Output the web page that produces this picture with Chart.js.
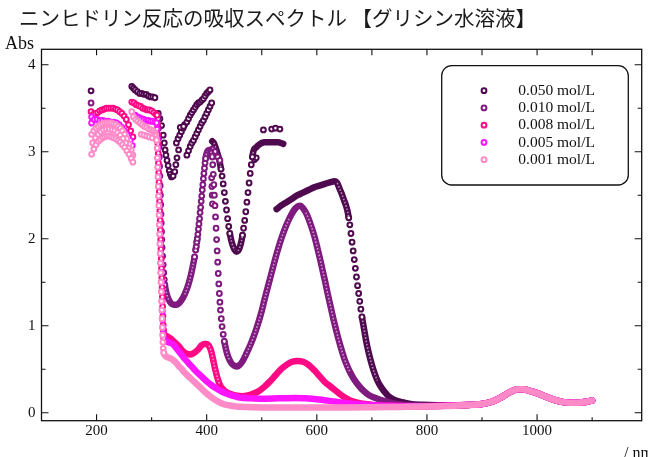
<!DOCTYPE html>
<html>
<head>
<meta charset="utf-8">
<script src="https://cdn.jsdelivr.net/npm/chart.js@4/dist/chart.umd.min.js"></script>
<style>
  html, body { margin: 0; padding: 0; background: #fff; }
  canvas { display: block; }
</style>
</head>
<body>
<canvas id="spectrum" width="648" height="457"></canvas>
<script>
// ---- axis ticks ----
const xTicks = [200, 400, 600, 800, 1000];
const xMinorTicks = [300, 500, 700, 900, 1100];
const yTicks = [0, 1, 2, 3, 4];
const yMinorTicks = [0.5, 1.5, 2.5, 3.5];

// ---- series ----
const concentrations = ['0.050 mol/L', '0.010 mol/L', '0.008 mol/L', '0.005 mol/L', '0.001 mol/L'];
const seriesColors = ['#4f0a4f', '#7f1a7f', '#ff0a84', '#ff14ff', '#ff8ac8'];

// [wavelength nm, Abs] — scattered readings in the saturated UV region
const sat050 = [[190,3.70],[264,3.75],[267,3.73],[270,3.71],[274,3.69],[278,3.67],[282,3.67],[286,3.66],[290,3.66],[294,3.64],[298,3.63],[302,3.63],[306,3.62],
  [312,3.44],[315,3.38],[318,3.30],[321,3.19],[323,3.10],[324.5,3.02],[326,2.96],[328,2.90],[330,2.84],[332,2.78],[334,2.74],[336,2.71],[339,2.72],[342,2.77],[344,2.85],[346,2.93],[349,3.02],
  [345,3.10],[348,3.15],[351,3.19],[354,3.23],[357,3.27],[360,3.31],[364,3.34],[367,3.38],[370,3.42],[373,3.45],[376,3.48],[379,3.51],[382,3.54],[385,3.56],[388,3.57],[391,3.59],[394,3.61],[397,3.64],[400,3.67],[403,3.69],[406,3.71],
  [364,2.96],[367,3.01],[370,3.06],[373,3.10],[376,3.13],[379,3.17],[382,3.21],[385,3.25],[388,3.29],[391,3.33],[394,3.36],[397,3.40],[400,3.44],[403,3.48],[406,3.52],[409,3.56],
  [352,3.28],[358,3.29],[487,2.91],[490,2.93],[503,3.25],[518,3.26],[525,3.27],[533,3.26]];
const sat010 = [[190,3.56],[405,2.97],[410,3.03],[415,3.00],[420,2.94],[424,2.90],[409,2.70],[409.5,2.60],[410,2.50],[410.5,2.40]];
const sat008 = [[190,3.46],[194,3.43],[198,3.44],[202,3.45],[206,3.47],[210,3.48],[214,3.49],[218,3.50],[222,3.50],[226,3.50],[230,3.50],[234,3.49],[238,3.48],[242,3.46],[246,3.44],[250,3.41],[254,3.37],[258,3.31],[262,3.24],[266,3.17],
  [264,3.57],[268,3.56],[272,3.54],[276,3.53],[280,3.52],[284,3.50],[288,3.49],[292,3.48],[296,3.48],[300,3.47],[304,3.45],[308,3.43]];
const sat005 = [[191,3.40],[191,3.33],[196,3.37],[201,3.37],[206,3.36],[211,3.36],[216,3.35],[221,3.35],[226,3.34],[231,3.34],[236,3.33],[241,3.31],[246,3.28],[251,3.24],[256,3.19],[261,3.13],[265,3.07],
  [270,3.42],[274,3.40],[278,3.39],[282,3.38],[286,3.37],[290,3.36],[294,3.36],[298,3.35],[302,3.35],[306,3.34]];
const sat001 = [[191,3.20],[195,3.24],[199,3.27],[203,3.29],[207,3.31],[211,3.32],[215,3.33],[219,3.33],[223,3.33],[227,3.33],[231,3.32],[235,3.31],[239,3.29],[243,3.27],[247,3.24],[251,3.20],[255,3.15],[259,3.09],[263,3.02],[266,2.96],
  [193,3.10],[198,3.16],[203,3.20],[208,3.23],[213,3.25],[218,3.26],[223,3.26],[228,3.25],[233,3.24],[238,3.22],[243,3.19],[248,3.15],[253,3.10],[258,3.04],[263,2.97],
  [191,2.97],[195,3.03],[199,3.08],[203,3.12],[207,3.14],[211,3.16],[215,3.17],[219,3.18],[223,3.18],[227,3.17],[231,3.16],[235,3.15],[239,3.13],[243,3.11],[247,3.08],[251,3.05],[255,3.01],[259,2.97],[263,2.92],[266,2.88],
  [264,3.46],[267,3.40],[271,3.37],[275,3.35],[279,3.33],[283,3.31],[287,3.29],[291,3.28],[295,3.26],[299,3.25],[303,3.24],[306,3.22],[281,3.20],[286,3.19],[291,3.18],[296,3.17],[301,3.16]];

// [wavelength nm, Abs] — continuous traces
const trace050a = [[410,3.12],[413,3.10],[416,3.05],[419,2.99],[422,2.93],[424,2.87],[426,2.80],[428,2.72],[430,2.63],[432,2.53],[434,2.43],[436,2.33],[438,2.23],[440,2.14],[442,2.06],[445,1.97],[448,1.91],[451,1.87],[454,1.85],[457,1.86],[460,1.90],[463,1.97],[465,2.04],[467,2.12],[469,2.21],[471,2.31],[473,2.42],[475,2.53],[477,2.64],[479,2.75],[481,2.85],[483,2.94],[485,3.01],[490,3.05],[495,3.08],[500,3.10],[505,3.11],[510,3.11],[515,3.11],[520,3.11],[525,3.11],[530,3.11],[535,3.10],[539,3.09]];
const trace050b = [[527,2.34],[535,2.38],[545,2.42],[555,2.46],[565,2.50],[575,2.53],[585,2.56],[595,2.59],[605,2.61],[615,2.63],[625,2.65],[632,2.66],[637,2.64],[641,2.58],[645,2.52],[649,2.45],[653,2.38],[656,2.31],[658,2.24],[660,2.16],[662,2.06],[664,1.96],[666,1.86],[668,1.76],[670,1.66],[672,1.56],[674,1.46],[676,1.37],[678,1.28],[680,1.19],[682,1.10],[685,0.99],[688,0.88],[691,0.78],[695,0.67],[700,0.55],[705,0.45],[710,0.37],[716,0.30],[723,0.24],[730,0.19],[740,0.15],[755,0.12],[770,0.10],[790,0.09],[820,0.085],[860,0.085],[880,0.09],[900,0.10],[915,0.12],[930,0.16],[945,0.215],[955,0.25],[965,0.27],[975,0.27],[985,0.255],[1000,0.225],[1015,0.185],[1030,0.15],[1045,0.125],[1060,0.115],[1075,0.115],[1090,0.125],[1100,0.14]];
const trace010 = [[310,3.42],[312,3.38],[312.5,3.27],[313,3.16],[313.5,3.05],[314,2.94],[314.5,2.83],[315,2.72],[315.5,2.61],[316,2.50],[316.5,2.39],[317,2.28],[317.5,2.18],[318,2.08],[318.5,1.99],[319,1.90],[320,1.80],[321,1.70],[322,1.61],[323,1.53],[324,1.47],[326,1.40],[328,1.35],[331,1.30],[335,1.26],[340,1.24],[345,1.24],[350,1.26],[355,1.30],[360,1.36],[365,1.44],[368,1.50],[372,1.60],[375,1.69],[378,1.79],[380,1.87],[381,1.91],[382,1.96],[383,2.00],[384,2.05],[385,2.11],[386,2.17],[387,2.23],[388,2.30],[389,2.36],[390,2.43],[391,2.49],[392,2.56],[393,2.62],[394,2.69],[395,2.75],[396,2.81],[397,2.87],[398,2.92],[399,2.96],[401,3.00],[404,3.02],[407,3.00],[410,2.94],[411,2.85],[412,2.74],[413,2.62],[414,2.50],[415,2.38],[416,2.25],[417,2.12],[418,1.99],[419,1.86],[420,1.73],[421,1.60],[422,1.48],[423,1.37],[424,1.27],[425,1.18],[426.5,1.08],[428,0.99],[430,0.90],[432,0.82],[435,0.73],[438,0.66],[442,0.60],[446,0.56],[450,0.54],[455,0.53],[460,0.55],[465,0.59],[470,0.65],[475,0.72],[480,0.79],[485,0.87],[490,0.96],[495,1.06],[500,1.17],[505,1.30],[510,1.42],[515,1.54],[520,1.66],[525,1.78],[530,1.89],[535,1.99],[540,2.08],[545,2.16],[550,2.23],[555,2.29],[560,2.34],[565,2.37],[570,2.38],[575,2.35],[580,2.30],[585,2.23],[590,2.14],[595,2.04],[600,1.92],[605,1.79],[610,1.65],[615,1.51],[620,1.36],[625,1.22],[630,1.08],[635,0.95],[640,0.83],[645,0.72],[650,0.62],[655,0.54],[660,0.47],[667,0.39],[675,0.32],[685,0.25],[695,0.20],[710,0.16],[725,0.13],[745,0.10],[770,0.085],[800,0.08],[850,0.085],[880,0.09],[900,0.10],[915,0.12],[930,0.16],[945,0.215],[955,0.25],[965,0.27],[975,0.27],[985,0.255],[1000,0.225],[1015,0.185],[1030,0.15],[1045,0.125],[1060,0.115],[1075,0.115],[1090,0.125],[1100,0.14]];
const trace008 = [[310,3.42],[310.5,3.31],[311,3.20],[311.5,3.09],[312,2.98],[312.5,2.87],[313,2.76],[313.5,2.65],[314,2.54],[314.5,2.43],[315,2.32],[315.5,2.21],[316,2.10],[316.5,1.99],[317,1.88],[317.5,1.77],[318,1.66],[318.5,1.55],[319,1.44],[319.5,1.33],[320,1.22],[320.5,1.11],[321,1.01],[321.5,0.95],[322,0.91],[325,0.89],[330,0.87],[335,0.85],[340,0.82],[345,0.79],[350,0.76],[355,0.72],[360,0.69],[365,0.675],[370,0.67],[375,0.68],[380,0.70],[385,0.73],[390,0.77],[395,0.79],[400,0.79],[404,0.77],[408,0.71],[411,0.63],[414,0.54],[417,0.46],[420,0.39],[424,0.32],[428,0.28],[435,0.24],[445,0.21],[455,0.195],[465,0.19],[475,0.20],[485,0.22],[495,0.25],[505,0.30],[515,0.36],[525,0.43],[535,0.50],[545,0.55],[555,0.585],[565,0.595],[575,0.585],[585,0.55],[595,0.49],[605,0.42],[615,0.35],[625,0.30],[635,0.25],[645,0.20],[655,0.16],[665,0.13],[680,0.105],[700,0.09],[730,0.08],[770,0.075],[800,0.075],[850,0.082],[880,0.09],[900,0.10],[915,0.12],[930,0.16],[945,0.215],[955,0.25],[965,0.27],[975,0.27],[985,0.255],[1000,0.225],[1015,0.185],[1030,0.15],[1045,0.125],[1060,0.115],[1075,0.115],[1090,0.125],[1100,0.14]];
const trace005 = [[309,3.33],[310,3.26],[310.5,3.15],[311,3.04],[311.5,2.93],[312,2.82],[312.5,2.71],[313,2.60],[313.5,2.49],[314,2.38],[314.5,2.27],[315,2.16],[315.5,2.05],[316,1.94],[316.5,1.83],[317,1.72],[317.5,1.61],[318,1.50],[318.5,1.39],[319,1.28],[319.5,1.17],[320,1.07],[320.5,0.98],[321,0.91],[322,0.86],[325,0.83],[330,0.81],[335,0.80],[340,0.78],[345,0.74],[350,0.70],[355,0.66],[360,0.62],[370,0.55],[380,0.48],[390,0.42],[400,0.36],[410,0.31],[420,0.27],[430,0.235],[440,0.21],[450,0.19],[460,0.175],[480,0.165],[500,0.16],[530,0.165],[560,0.17],[580,0.165],[600,0.155],[630,0.13],[660,0.105],[690,0.09],[720,0.08],[760,0.075],[800,0.075],[850,0.082],[880,0.09],[900,0.10],[915,0.12],[930,0.16],[945,0.215],[955,0.25],[965,0.27],[975,0.27],[985,0.255],[1000,0.225],[1015,0.185],[1030,0.15],[1045,0.125],[1060,0.115],[1075,0.115],[1090,0.125],[1100,0.14]];
const trace001 = [[307,3.20],[309,3.13],[310,3.04],[310.5,2.93],[311,2.82],[311.5,2.71],[312,2.60],[312.5,2.49],[313,2.38],[313.5,2.27],[314,2.16],[314.5,2.05],[315,1.94],[315.5,1.83],[316,1.72],[316.5,1.61],[317,1.50],[317.5,1.39],[318,1.28],[318.5,1.18],[319,1.08],[319.5,0.98],[320,0.89],[320.5,0.81],[321,0.74],[322,0.69],[324,0.66],[328,0.64],[332,0.63],[336,0.62],[340,0.60],[345,0.57],[350,0.53],[355,0.50],[360,0.46],[370,0.40],[380,0.34],[390,0.28],[400,0.22],[410,0.17],[420,0.13],[430,0.10],[440,0.085],[450,0.075],[470,0.065],[500,0.06],[550,0.06],[600,0.06],[650,0.06],[700,0.062],[750,0.066],[800,0.07],[850,0.08],[880,0.09],[900,0.10],[915,0.12],[930,0.16],[945,0.215],[955,0.25],[965,0.27],[975,0.27],[985,0.255],[1000,0.225],[1015,0.185],[1030,0.15],[1045,0.125],[1060,0.115],[1075,0.115],[1090,0.125],[1100,0.14]];

const toPoints = rows => rows.map(([x, y]) => ({ x, y }));

// pixel-space steepness between two neighbouring readings
function steepness(ax, ay, bx, by) {
  const dx = Math.abs(bx - ax), dy = Math.abs(by - ay);
  if (dy > 4 && dy > 6 * dx) return 2;      // readings separate into a chain of rings
  if (dy > 2 * dx) return 1;                // rings overlap into a ribbed band
  return 0;                                 // rings merge into a solid band
}

function steepMarker(ctx) {
  const data = ctx.dataset.data, i = ctx.dataIndex;
  const sx = ctx.chart.scales.x, sy = ctx.chart.scales.y;
  if (i === undefined || !data[i] || !sx || !sy) return 0;
  const p = data[i];
  for (const j of [i - 1, i + 1]) {
    const q = data[j];
    if (!q) continue;
    if (steepness(sx.getPixelForValue(p.x), sy.getPixelForValue(p.y),
                  sx.getPixelForValue(q.x), sy.getPixelForValue(q.y)) === 2) return 2.4;
  }
  return 0;
}

const CLEAR = 'rgba(0,0,0,0)';

function traceSet(rows, color) {
  return {
    data: toPoints(rows), showLine: true, fill: false,
    borderColor: color, borderWidth: 6.5, borderCapStyle: 'round', borderJoinStyle: 'round',
    cubicInterpolationMode: 'monotone',
    segment: { borderColor: s => steepness(s.p0.x, s.p0.y, s.p1.x, s.p1.y) === 2 ? CLEAR : undefined },
    pointRadius: steepMarker, pointHoverRadius: 0,
    pointBorderColor: color, pointBackgroundColor: '#ffffff', pointBorderWidth: 2
  };
}
// pale ribbing inside the band where successive rings only partly overlap
function ribSet(rows) {
  return {
    data: toPoints(rows), showLine: true, fill: false,
    borderColor: CLEAR, borderWidth: 1.6, borderDash: [1.6, 1.8],
    cubicInterpolationMode: 'monotone', pointRadius: 0, pointHoverRadius: 0,
    segment: { borderColor: s => steepness(s.p0.x, s.p0.y, s.p1.x, s.p1.y) === 1 ? 'rgba(255,255,255,0.55)' : CLEAR }
  };
}
function scatterSet(rows, color) {
  return {
    data: toPoints(rows), showLine: false,
    pointRadius: 2.4, pointHoverRadius: 0,
    pointBorderColor: color, pointBackgroundColor: '#ffffff', pointBorderWidth: 2
  };
}

// first dataset is painted last, so the lowest concentration sits on top
const datasets = [
  ribSet(trace001), traceSet(trace001, seriesColors[4]), scatterSet(sat001, seriesColors[4]),
  ribSet(trace005), traceSet(trace005, seriesColors[3]), scatterSet(sat005, seriesColors[3]),
  ribSet(trace008), traceSet(trace008, seriesColors[2]), scatterSet(sat008, seriesColors[2]),
  ribSet(trace010), traceSet(trace010, seriesColors[1]), scatterSet(sat010, seriesColors[1]),
  ribSet(trace050b), traceSet(trace050b, seriesColors[0]),
  ribSet(trace050a), traceSet(trace050a, seriesColors[0]), scatterSet(sat050, seriesColors[0])
];

const SERIF = '"Liberation Serif", "Times New Roman", serif';

function drawMarker(ctx, x, y, color) {
  ctx.beginPath();
  ctx.arc(x, y, 2.4, 0, Math.PI * 2);
  ctx.fillStyle = '#fff';
  ctx.fill();
  ctx.lineWidth = 2;
  ctx.strokeStyle = color;
  ctx.stroke();
}

const framePlugin = {
  id: 'frame',
  afterDatasetsDraw(chart) {
    const { ctx, chartArea: a, scales: { x, y } } = chart;
    ctx.save();
    ctx.setLineDash([]);
    ctx.strokeStyle = '#111';
    ctx.lineWidth = 1.3;
    ctx.strokeRect(a.left, a.top, a.right - a.left, a.bottom - a.top);

    ctx.beginPath();
    ctx.lineWidth = 1.1;
    const vTick = (v, len) => {
      const px = x.getPixelForValue(v);
      ctx.moveTo(px, a.bottom); ctx.lineTo(px, a.bottom - len);
    };
    xTicks.forEach(v => vTick(v, 6.5));
    xMinorTicks.forEach(v => vTick(v, 3.5));
    [...xTicks, ...xMinorTicks].forEach(v => {
      const px = x.getPixelForValue(v);
      ctx.moveTo(px, a.top); ctx.lineTo(px, a.top + 6);
    });
    const hTick = (v, len) => {
      const py = y.getPixelForValue(v);
      ctx.moveTo(a.left, py); ctx.lineTo(a.left + len, py);
      ctx.moveTo(a.right, py); ctx.lineTo(a.right - len, py);
    };
    yTicks.forEach(v => hTick(v, 7));
    yMinorTicks.forEach(v => hTick(v, 4));
    ctx.stroke();

    // tick labels
    ctx.fillStyle = '#111';
    ctx.font = '15px ' + SERIF;
    ctx.textAlign = 'center';
    ctx.textBaseline = 'alphabetic';
    xTicks.forEach(v => ctx.fillText(String(v), x.getPixelForValue(v), 435));
    ctx.textAlign = 'right';
    ctx.textBaseline = 'middle';
    yTicks.forEach(v => ctx.fillText(String(v), 35.5, y.getPixelForValue(v)));

    // axis names
    ctx.textAlign = 'left';
    ctx.textBaseline = 'alphabetic';
    ctx.font = '18px ' + SERIF;
    ctx.fillText('Abs', 5, 49);
    ctx.font = '16px ' + SERIF;
    ctx.fillText('/ nm', 624, 458);

    // title
    ctx.font = '20.5px "Noto Sans CJK JP", sans-serif';
    ctx.textBaseline = 'middle';
    ctx.fillStyle = '#1a1a1a';
    ctx.fillText('ニンヒドリン反応の吸収スペクトル 【グリシン水溶液】', 19, 18);

    // legend
    const L = 441.7, T = 65.7, R = 628.3, B = 185, r = 10;
    ctx.beginPath();
    ctx.moveTo(L + r, T);
    ctx.arcTo(R, T, R, B, r);
    ctx.arcTo(R, B, L, B, r);
    ctx.arcTo(L, B, L, T, r);
    ctx.arcTo(L, T, R, T, r);
    ctx.closePath();
    ctx.fillStyle = '#fff';
    ctx.fill();
    ctx.lineWidth = 1.3;
    ctx.strokeStyle = '#111';
    ctx.stroke();
    ctx.font = '15.5px ' + SERIF;
    ctx.textBaseline = 'middle';
    ctx.textAlign = 'left';
    concentrations.forEach((label, k) => {
      const rowY = 90.7 + k * 17.25;
      drawMarker(ctx, 484, rowY, seriesColors[k]);
      ctx.fillStyle = '#111';
      ctx.fillText(label, 518.3, rowY);
    });
    ctx.restore();
  }
};

new Chart(document.getElementById('spectrum'), {
  type: 'scatter',
  data: { datasets },
  options: {
    responsive: false,
    animation: false,
    events: [],
    layout: { padding: { left: 41.5, top: 49.3, right: 6.3, bottom: 36.3 } },
    scales: {
      x: { type: 'linear', min: 100, max: 1190, display: false },
      y: { type: 'linear', min: -0.092, max: 4.177, display: false }
    },
    plugins: { legend: { display: false }, tooltip: { enabled: false }, title: { display: false } }
  },
  plugins: [framePlugin]
});
</script>
</body>
</html>
